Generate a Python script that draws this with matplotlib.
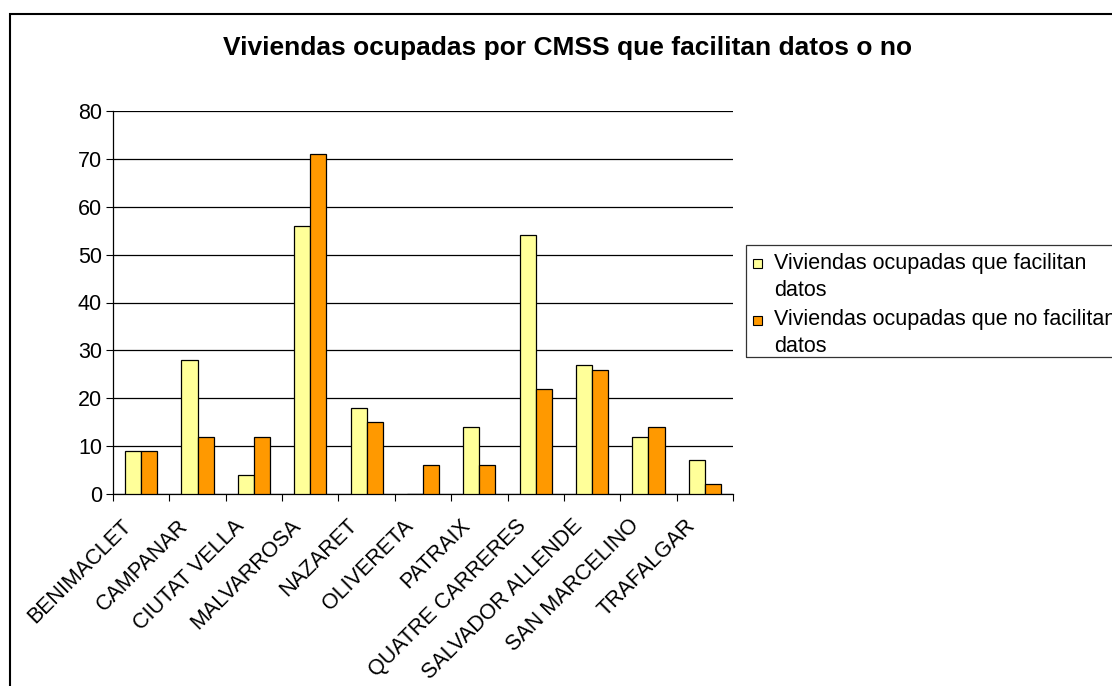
import numpy as np
import matplotlib
matplotlib.use("Agg")
import matplotlib.pyplot as plt
from matplotlib.patches import Rectangle

plt.rcParams['font.family'] = ['Liberation Sans', 'DejaVu Sans']

# Datos
barrios = ["BENIMACLET", "CAMPANAR", "CIUTAT VELLA", "MALVARROSA", "NAZARET",
           "OLIVERETA", "PATRAIX", "QUATRE CARRERES", "SALVADOR ALLENDE",
           "SAN MARCELINO", "TRAFALGAR"]
facilitan = [9, 28, 4, 56, 18, 0, 14, 54, 27, 12, 7]
no_facilitan = [9, 12, 12, 71, 15, 6, 6, 22, 26, 14, 2]
series = ["Viviendas ocupadas que facilitan\ndatos",
          "Viviendas ocupadas que no facilitan\ndatos"]
colores = ["#FFFF99", "#FF9900"]
yticks = [0, 10, 20, 30, 40, 50, 60, 70, 80]

FS = 15.5
W, H = 1112, 686


def fx(p):
    return p / W


def fy(p):
    return 1 - p / H


fig = plt.figure(figsize=(W / 100, H / 100), dpi=100)
ax = fig.add_axes([fx(113), fy(494), 620 / W, 383 / H])

x = np.arange(len(barrios))
w = 1 / 3.5
ax.bar(x - w/2, facilitan, w, color=colores[0], edgecolor="black", linewidth=0.9, zorder=3)
ax.bar(x + w/2, no_facilitan, w, color=colores[1], edgecolor="black", linewidth=0.9, zorder=3)

ax.set_xlim(-0.5, len(barrios) - 0.5)
ax.set_ylim(0, 80)
ax.set_yticks(yticks)
ax.yaxis.grid(True, color="black", linewidth=0.9, zorder=0)
ax.tick_params(axis="y", labelsize=FS, length=5, direction="out", width=0.8, pad=3)

# ticks del eje x en los limites de categoria
ax.set_xticks(np.arange(len(barrios) + 1) - 0.5)
ax.set_xticklabels([])
ax.tick_params(axis="x", length=5, direction="out", width=0.8)
for i, name in enumerate(barrios):
    ax.text(i - 0.22, -6.0, name, rotation=45, ha="right", va="center",
            rotation_mode="anchor", fontsize=FS)

for s in ["top", "right"]:
    ax.spines[s].set_visible(False)
ax.spines["left"].set_linewidth(0.9)
ax.spines["bottom"].set_linewidth(0.9)

fig.text(fx(568), fy(48), "Viviendas ocupadas por CMSS que facilitan datos o no",
         ha="center", va="center", fontsize=19, fontweight="bold")

# leyenda (dibujada a mano para alinear el cuadro con la primera linea)
fig.patches.append(Rectangle((fx(746), fy(357)), 1, 112 / H, transform=fig.transFigure,
                             fill=False, edgecolor="#333333", linewidth=0.9))
for k, (lab, col) in enumerate(zip(series, colores)):
    y0 = 263 + k * 57
    fig.patches.append(Rectangle((fx(753), fy(y0 + 4.5)), 9 / W, 9 / H,
                                 transform=fig.transFigure, facecolor=col,
                                 edgecolor="black", linewidth=0.8))
    for j, line in enumerate(lab.split("\n")):
        fig.text(fx(774), fy(y0 + j * 27), line, ha="left", va="center", fontsize=FS)

# marco exterior
fig.patches.append(Rectangle((fx(10), -0.1), 1.2, 1.1 - 14 / H,
                             transform=fig.transFigure, fill=False,
                             edgecolor="black", linewidth=1.5))

fig.savefig("out.png", dpi=100)
